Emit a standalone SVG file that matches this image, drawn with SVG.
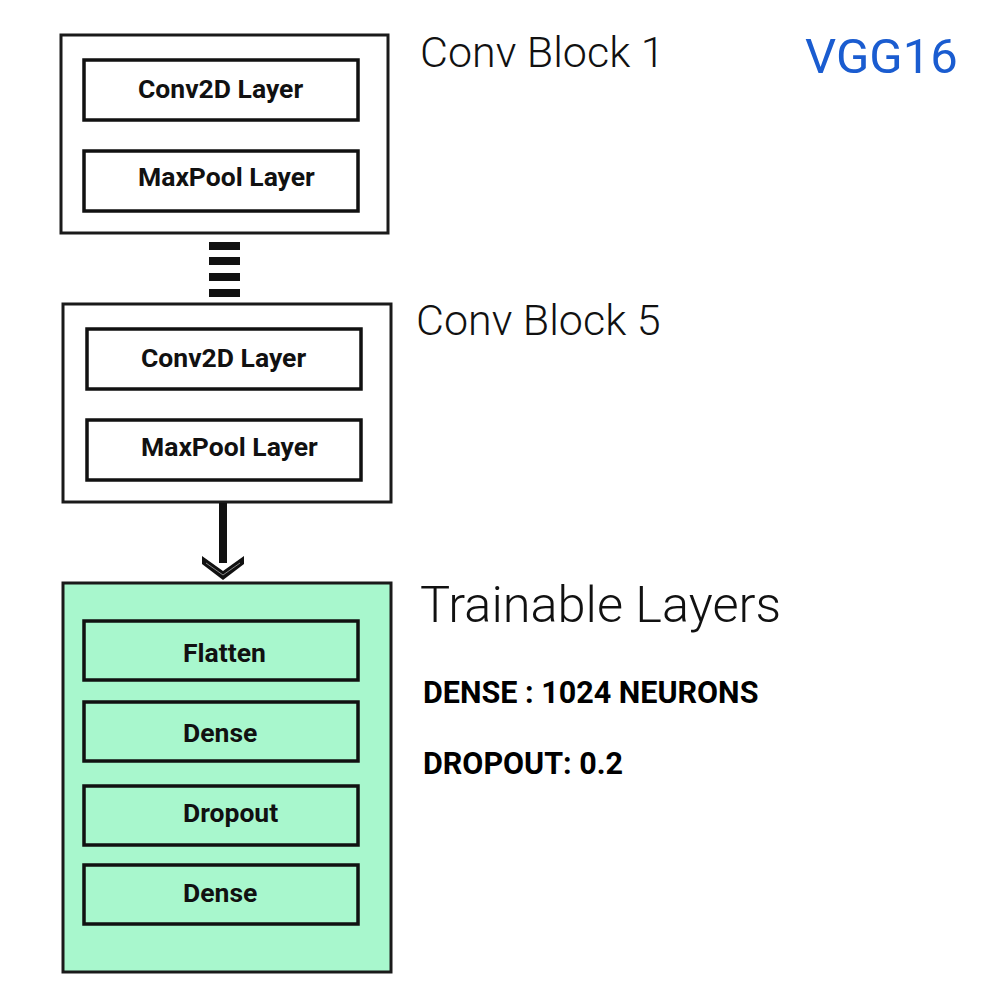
<svg xmlns="http://www.w3.org/2000/svg" width="1000" height="1000" viewBox="0 0 1000 1000">
<style>
.outer{fill:#ffffff;stroke:#1a1a1a;stroke-width:3}
.green{fill:#a8f7cd;stroke:#1a1a1a;stroke-width:3}
.inner{fill:none;stroke:#111;stroke-width:3.5}
.lbl{font-family:Roboto,"Liberation Sans",sans-serif;font-weight:700;font-size:26.5px;fill:#111}
.title{font-family:Roboto,"Liberation Sans",sans-serif;font-weight:300;font-size:43px;fill:#111}
.note{font-family:Roboto,"Liberation Sans",sans-serif;font-weight:700;font-size:30.5px;fill:#000}
</style>
<rect width="1000" height="1000" fill="#ffffff"/>
<g id="block1">
<rect class="outer" x="61" y="35" width="327" height="198"/>
<rect class="inner" x="84" y="60" width="274" height="60"/>
<text class="lbl" x="138" y="98">Conv2D Layer</text>
<rect class="inner" x="84" y="151" width="274" height="60"/>
<text class="lbl" x="138" y="186">MaxPool Layer</text>
<text class="title" x="420" y="67">Conv Block 1</text>
</g>
<g id="block5">
<rect class="outer" x="63" y="304" width="328" height="198"/>
<rect class="inner" x="87" y="329" width="274" height="60"/>
<text class="lbl" x="141" y="367">Conv2D Layer</text>
<rect class="inner" x="87" y="420" width="274" height="60"/>
<text class="lbl" x="141" y="456">MaxPool Layer</text>
<text class="title" x="416" y="335">Conv Block 5</text>
</g>
<g id="trainable">
<rect class="green" x="63" y="583" width="328" height="389"/>
<rect class="inner" x="84" y="621" width="274" height="59"/>
<text class="lbl" x="183" y="662">Flatten</text>
<rect class="inner" x="84" y="702" width="274" height="59"/>
<text class="lbl" x="183" y="742">Dense</text>
<rect class="inner" x="84" y="786" width="274" height="59"/>
<text class="lbl" x="183" y="822">Dropout</text>
<rect class="inner" x="84" y="865" width="274" height="59"/>
<text class="lbl" x="183" y="902">Dense</text>
<text class="title" x="420" y="622" style="font-size:50.5px">Trainable Layers</text>
<text class="note" x="423" y="703">DENSE : 1024 NEURONS</text>
<text class="note" x="423" y="774">DROPOUT: 0.2</text>
</g>
<g id="title">
<text x="805" y="73" style="font-family:Roboto,'Liberation Sans',sans-serif;font-weight:400;font-size:49px;fill:#1a5cd0">VGG16</text>
</g>
<g id="connectors">
<g fill="#111">
<rect x="209" y="242" width="31" height="8"/>
<rect x="209" y="257" width="31" height="8"/>
<rect x="209" y="273" width="31" height="8"/>
<rect x="209" y="289" width="31" height="8"/>
</g>
<rect x="219" y="503" width="8" height="60" fill="#111"/>
<polygon points="202,556 223,571 244,556 244,564 223,580 202,564" fill="#111"/>
<polyline points="206,563 223,575 240,563" fill="none" stroke="#888" stroke-width="1"/>
</g>
</svg>
